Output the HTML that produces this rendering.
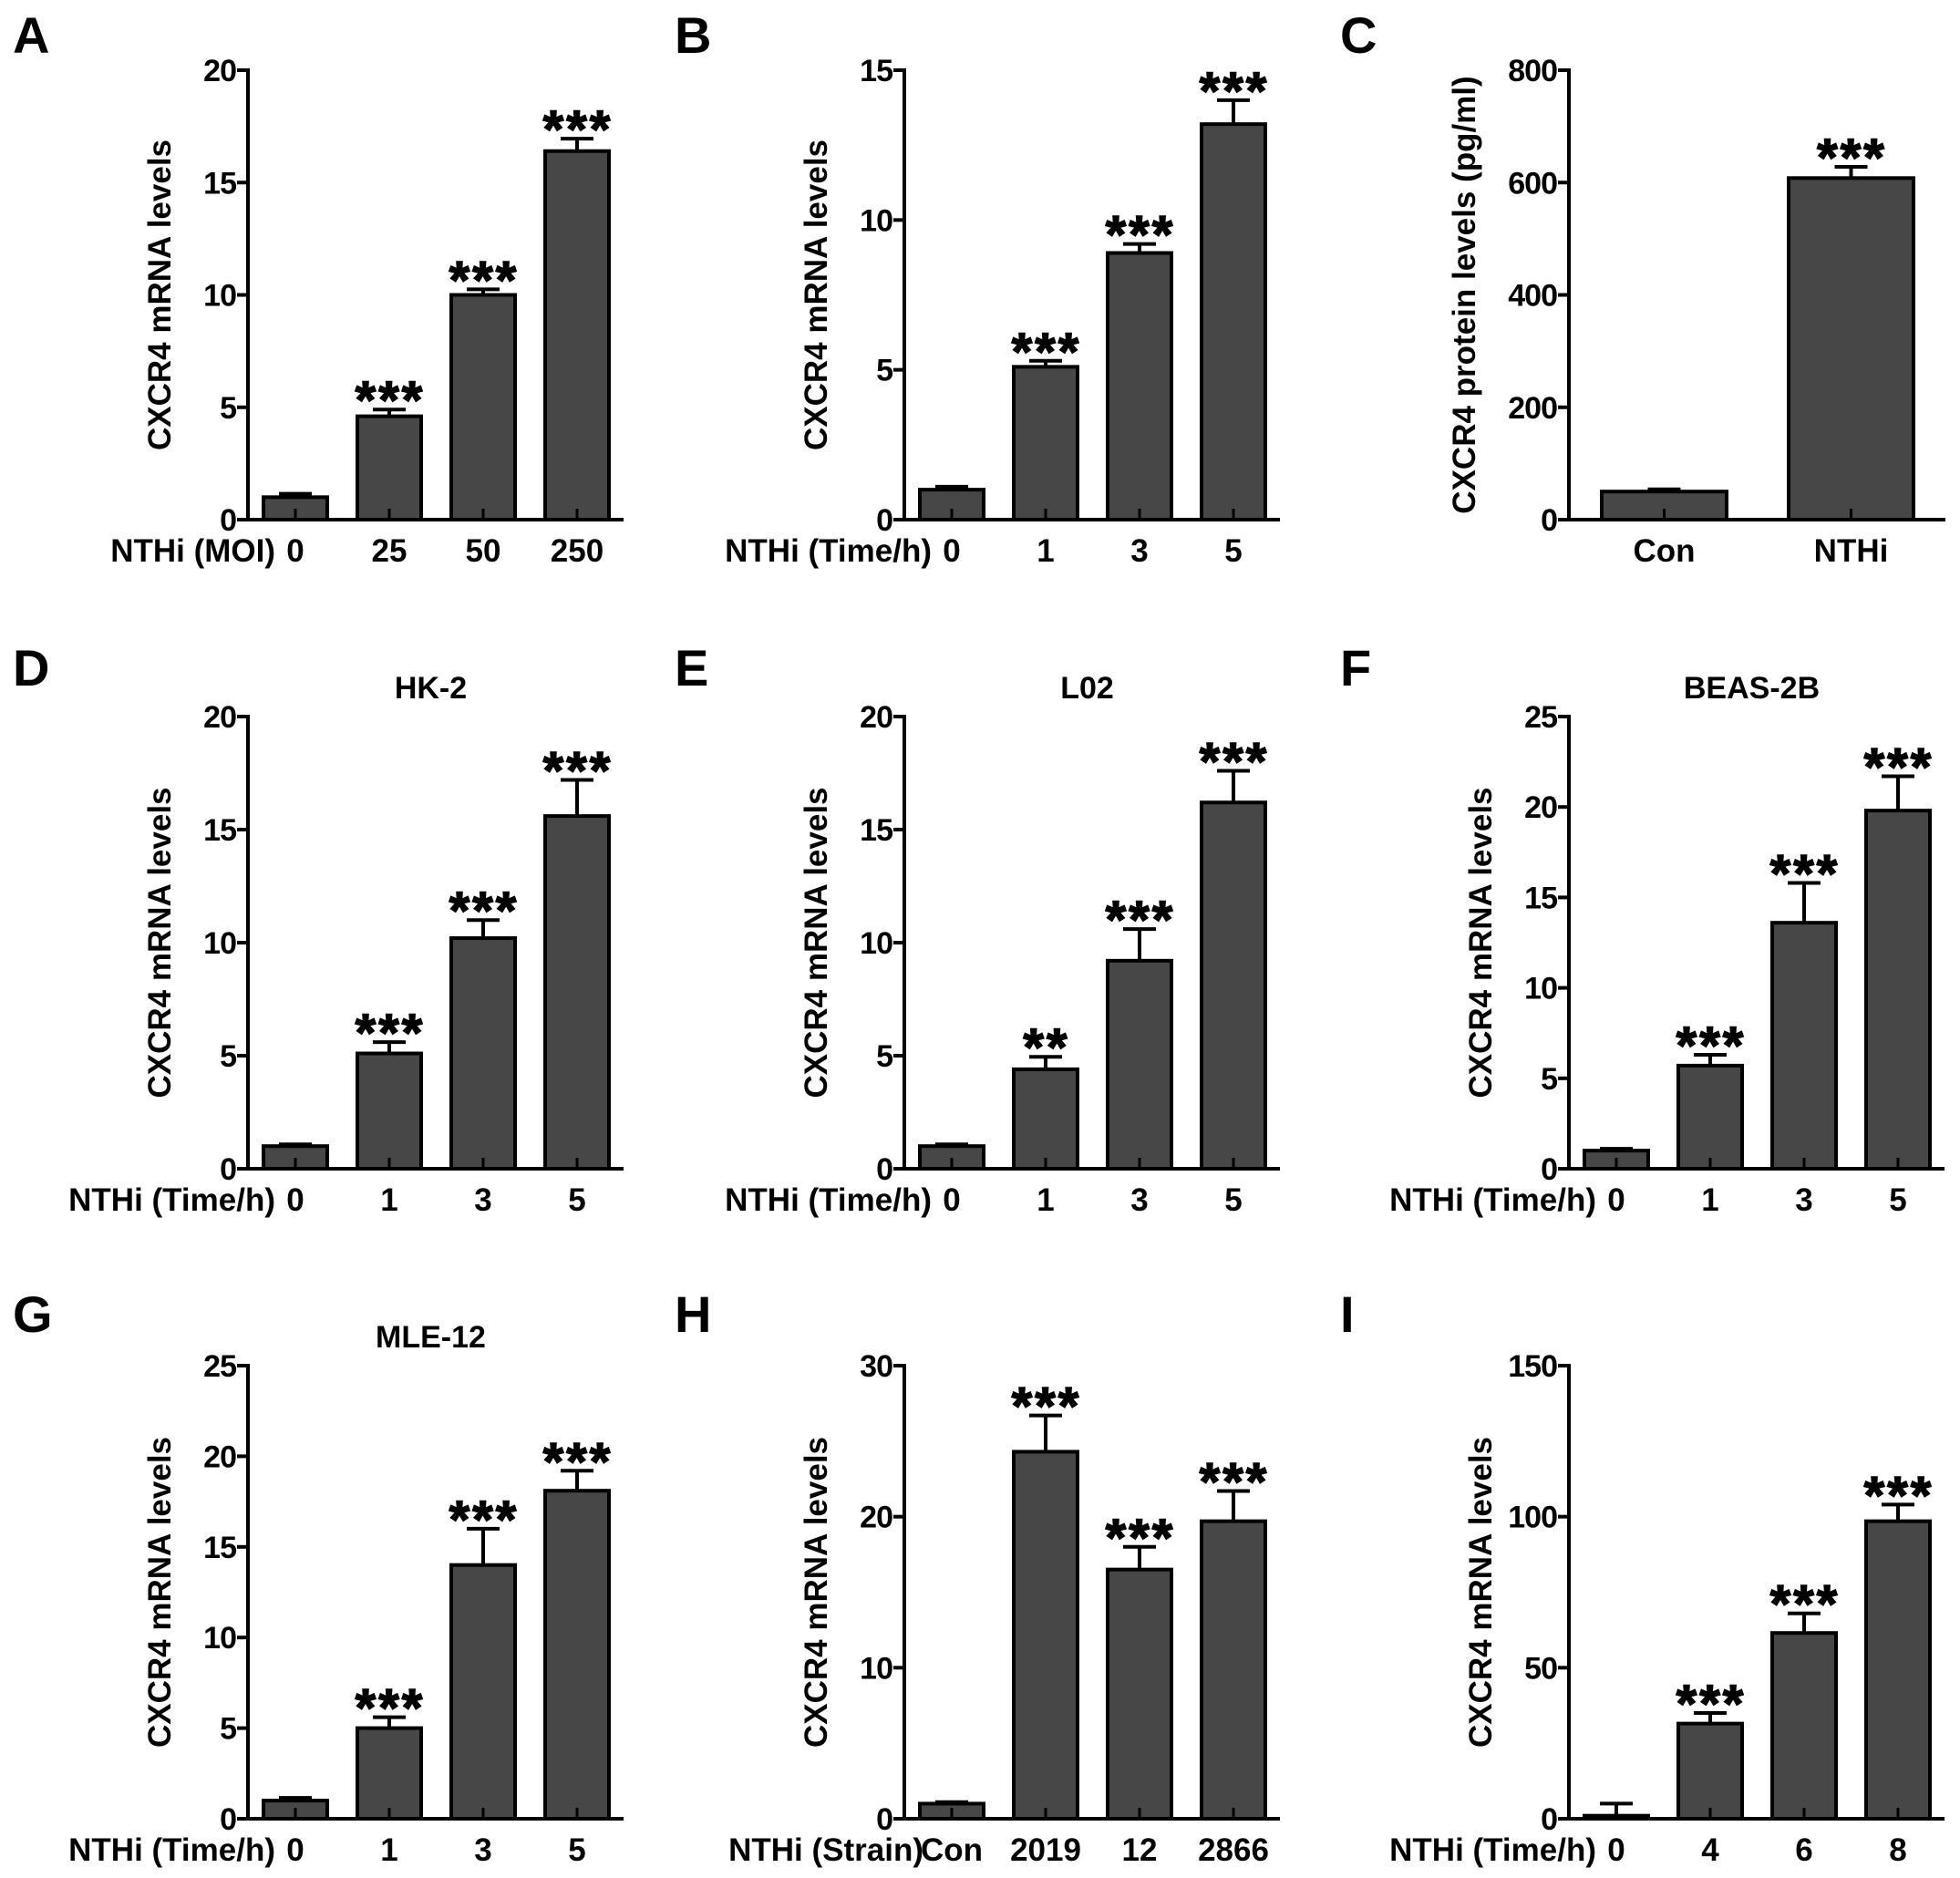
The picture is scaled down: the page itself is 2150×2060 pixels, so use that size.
<!DOCTYPE html>
<html><head><meta charset="utf-8">
<style>
html,body{margin:0;padding:0;background:#fff;}
svg{display:block;font-family:"Liberation Sans",Arial,sans-serif;font-weight:bold;}
</style></head>
<body>
<svg id="fig" width="2150" height="2060" viewBox="0 0 2150 2060" xmlns="http://www.w3.org/2000/svg"></svg>
<script>
// ---- data arrays ----
const catsA = ["0","25","50","250"];
const valsA = [1.0,4.6,10.0,16.4];
const errsA = [0.15,0.3,0.25,0.55];
const sigA = ["","***","***","***"];
const ticksA = [0,5,10,15,20];

const catsB = ["0","1","3","5"];
const valsB = [1.0,5.1,8.9,13.2];
const errsB = [0.1,0.2,0.3,0.8];
const sigB = ["","***","***","***"];
const ticksB = [0,5,10,15];

const catsC = ["Con","NTHi"];
const valsC = [50,608];
const errsC = [4,20];
const sigC = ["","***"];
const ticksC = [0,200,400,600,800];

const catsD = ["0","1","3","5"];
const valsD = [1.0,5.1,10.2,15.6];
const errsD = [0.08,0.5,0.8,1.6];
const sigD = ["","***","***","***"];
const ticksD = [0,5,10,15,20];

const catsE = ["0","1","3","5"];
const valsE = [1.0,4.4,9.2,16.2];
const errsE = [0.08,0.55,1.4,1.4];
const sigE = ["","**","***","***"];
const ticksE = [0,5,10,15,20];

const catsF = ["0","1","3","5"];
const valsF = [1.0,5.7,13.6,19.8];
const errsF = [0.1,0.6,2.2,1.9];
const sigF = ["","***","***","***"];
const ticksF = [0,5,10,15,20,25];

const catsG = ["0","1","3","5"];
const valsG = [1.0,5.0,14.0,18.1];
const errsG = [0.15,0.6,2.0,1.1];
const sigG = ["","***","***","***"];
const ticksG = [0,5,10,15,20,25];

const catsH = ["Con","2019","12","2866"];
const valsH = [1.0,24.3,16.5,19.7];
const errsH = [0.1,2.4,1.5,2.0];
const sigH = ["","***","***","***"];
const ticksH = [0,10,20,30];

const catsI = ["0","4","6","8"];
const valsI = [1.0,31.5,61.5,98.5];
const errsI = [4,3.5,6.5,5.5];
const sigI = ["","***","***","***"];
const ticksI = [0,50,100,150];

const NS = "http://www.w3.org/2000/svg";
const svg = document.getElementById('fig');
function mk(tag, attrs, parent, text){
  const e = document.createElementNS(NS, tag);
  for (const k in attrs) e.setAttribute(k, attrs[k]);
  if (text !== undefined) e.textContent = text;
  (parent||svg).appendChild(e);
  return e;
}

function panel(o){
  const g = mk('g', {});
  
  
  const ymax = o.ticks[o.ticks.length-1];
  const ys = v => o.zero - (v/ymax)*(o.zero - o.top);
  const barX = i => o.ax + o.off + i*o.step;
  const cx = i => barX(i) + o.bw/2;
  const L = mk('text', {x:o.lx, y:o.ly, 'font-size':56, fill:'#000'}, g, o.letter);
  
  
  if (o.title){
    const t = mk('text', {x:o.ax + o.off + (o.cats.length*o.step - (o.step-o.bw))/2 - 6, y:o.top-20, 'font-size':34, 'text-anchor':'middle'}, g, o.title);
    
    
  }
  o.vals.forEach((v,i)=>{
    const y = ys(v);
    const b = mk('rect', {x:barX(i), y:y, width:o.bw, height:o.zero-y, fill:'#474747', stroke:'#000', 'stroke-width':4}, g);
    
    
    const ye = ys(v + o.errs[i]);
    const e1 = mk('line', {x1:cx(i), x2:cx(i), y1:y, y2:ye, stroke:'#000', 'stroke-width':4}, g);
    
    
    const e2 = mk('line', {x1:cx(i)-18, x2:cx(i)+18, y1:ye, y2:ye, stroke:'#000', 'stroke-width':4}, g);
    
    
    if (o.sig[i]){
      const s = mk('text', {x:cx(i)+1, y:ye+10, 'font-size':58, 'text-anchor':'middle', 'letter-spacing':'3', stroke:'#000', 'stroke-width':1.5}, g, o.sig[i]);
      
      
    }
    const tk = mk('line', {x1:cx(i), x2:cx(i), y1:o.zero, y2:o.zero-12, stroke:'#000', 'stroke-width':3}, g);
    
    
    const xl = mk('text', {x:cx(i), y:o.zero+46, 'font-size':35, 'text-anchor':'middle'}, g, o.cats[i]);
    
    
  });
  const ya = mk('line', {x1:o.ax, x2:o.ax, y1:o.top-2, y2:o.zero+2, stroke:'#000', 'stroke-width':4}, g);
  
  
  const xa = mk('line', {x1:o.ax-12, x2:o.xend, y1:o.zero, y2:o.zero, stroke:'#000', 'stroke-width':4}, g);
  
  
  o.ticks.forEach(t=>{
    const y = ys(t);
    const l = mk('line', {x1:o.ax-12, x2:o.ax, y1:y, y2:y, stroke:'#000', 'stroke-width':4}, g);
    
    
    const tl = mk('text', {x:o.ax-13, y:y+12, 'font-size':34, 'text-anchor':'end', 'letter-spacing':'-1'}, g, String(t));
    
    
  });
  const my = (o.top+o.zero)/2;
  const yt = mk('text', {x:o.ytx, y:my, 'font-size':35, 'text-anchor':'middle', transform:'rotate(-90 '+o.ytx+' '+my+')'}, g, o.ytitle);
  
  
  if (o.prefix){
    const px = mk('text', {x:cx(0) - o.prefGap, y:o.zero+46, 'font-size':35, 'text-anchor':'end'}, g, o.prefix);
    
    
  }
}

const cols = [272, 992, 1721];
const rows = [{top:77,zero:570,ly:58},{top:786,zero:1282,ly:752},{top:1498,zero:1995,ly:1461}];
const letterX = [14, 740, 1470];
const ytxOff = 85;
const mrna = "CXCR4 mRNA levels";
const std = (c,r)=>({ax:cols[c], top:rows[r].top, zero:rows[r].zero, lx:letterX[c], ly:rows[r].ly, off:17, bw:70, step:103, xend:cols[c]+412, ytx:cols[c]-ytxOff, ytitle:mrna, prefGap:22});

panel(Object.assign(std(0,0), {letter:'A', cats:catsA, vals:valsA, errs:errsA, sig:sigA, ticks:ticksA, prefix:'NTHi (MOI)'}));
panel(Object.assign(std(1,0), {letter:'B', cats:catsB, vals:valsB, errs:errsB, sig:sigB, ticks:ticksB, prefix:'NTHi (Time/h)'}));
panel(Object.assign(std(2,0), {letter:'C', cats:catsC, vals:valsC, errs:errsC, sig:sigC, ticks:ticksC, off:36, bw:137, step:205, xend:2134, ytx:1618, ytitle:'CXCR4 protein levels (pg/ml)'}));
panel(Object.assign(std(0,1), {letter:'D', cats:catsD, vals:valsD, errs:errsD, sig:sigD, ticks:ticksD, prefix:'NTHi (Time/h)', title:'HK-2'}));
panel(Object.assign(std(1,1), {letter:'E', cats:catsE, vals:valsE, errs:errsE, sig:sigE, ticks:ticksE, prefix:'NTHi (Time/h)', title:'L02'}));
panel(Object.assign(std(2,1), {letter:'F', cats:catsF, vals:valsF, errs:errsF, sig:sigF, ticks:ticksF, prefix:'NTHi (Time/h)', title:'BEAS-2B'}));
panel(Object.assign(std(0,2), {letter:'G', cats:catsG, vals:valsG, errs:errsG, sig:sigG, ticks:ticksG, prefix:'NTHi (Time/h)', title:'MLE-12'}));
panel(Object.assign(std(1,2), {letter:'H', cats:catsH, vals:valsH, errs:errsH, sig:sigH, ticks:ticksH, prefix:'NTHi (Strain)', prefGap:31}));
panel(Object.assign(std(2,2), {letter:'I', cats:catsI, vals:valsI, errs:errsI, sig:sigI, ticks:ticksI, prefix:'NTHi (Time/h)'}));
</script>
</body></html>
